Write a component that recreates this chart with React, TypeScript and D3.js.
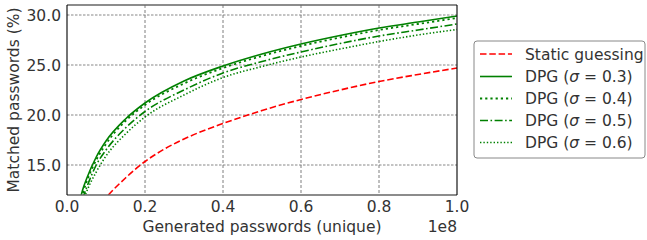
import React from "react";
import * as d3 from "d3";

const xs = [0.03, 0.04, 0.05, 0.075, 0.1, 0.15, 0.2, 0.3, 0.4, 0.5, 0.6, 0.7, 0.8, 0.9, 1.0];
const sigma03 = [10.9, 12.5, 13.6, 15.8, 17.4, 19.6, 21.2, 23.4, 24.9, 26.1, 27.1, 27.95, 28.7, 29.3, 29.9];
const sigma04 = [10.7, 12.1, 13.3, 15.5, 17.1, 19.4, 21.0, 23.15, 24.7, 25.9, 26.9, 27.75, 28.5, 29.1, 29.7];
const sigma05 = [10.2, 11.6, 12.7, 15.0, 16.5, 18.7, 20.35, 22.5, 24.2, 25.35, 26.3, 27.15, 27.9, 28.5, 29.1];
const sigma06 = [9.8, 11.2, 12.3, 14.3, 15.9, 18.1, 19.8, 22.0, 23.75, 24.85, 25.8, 26.6, 27.35, 28.0, 28.55];
const staticX = [0.09, 0.106, 0.15, 0.2, 0.25, 0.3, 0.4, 0.5, 0.6, 0.7, 0.8, 0.9, 1.0];
const staticY = [11.3, 12.0, 13.7, 15.35, 16.6, 17.6, 19.15, 20.45, 21.55, 22.5, 23.35, 24.05, 24.7];

const xTicks = [0, 0.2, 0.4, 0.6, 0.8, 1.0];
const yTicks = [15, 20, 25, 30];
const legendLabels = ["Static guessing", "DPG (σ = 0.3)", "DPG (σ = 0.4)", "DPG (σ = 0.5)", "DPG (σ = 0.6)"];

const FONT = "DejaVu Sans, sans-serif";
const FS = 15.5;

export default function App() {
  const W = 647, H = 240;
  const L = 67, R = 457, T = 5, B = 195;
  const x = d3.scaleLinear().domain([0, 1]).range([L, R]);
  const y = d3.scaleLinear().domain([12, 31]).range([B, T]);
  const line = d3.line<[number, number]>().x(d => x(d[0])).y(d => y(d[1])).curve(d3.curveMonotoneX);

  const series = [
    { pts: staticX.map((v, i) => [v, staticY[i]] as [number, number]), color: "#ff0000", dash: "6.5,2.8", w: 1.6 },
    { pts: xs.map((v, i) => [v, sigma03[i]] as [number, number]), color: "#008000", dash: "", w: 1.6 },
    { pts: xs.map((v, i) => [v, sigma04[i]] as [number, number]), color: "#008000", dash: "2.2,3", w: 1.8 },
    { pts: xs.map((v, i) => [v, sigma05[i]] as [number, number]), color: "#008000", dash: "8,2.5,1.6,2.5", w: 1.6 },
    { pts: xs.map((v, i) => [v, sigma06[i]] as [number, number]), color: "#008000", dash: "1.4,2", w: 1.6 },
  ];

  const legX = 474, legY = 41, legW = 171, legH = 117;
  const rowY = [54, 76.5, 98.5, 120.5, 142.5];

  return (
    <svg width={W} height={H} style={{ position: "absolute", left: 0, top: 0 }} fontFamily={FONT}>
      <defs>
        <clipPath id="plot">
          <rect x={L} y={T} width={R - L} height={B - T} />
        </clipPath>
      </defs>
      <rect x={0} y={0} width={W} height={H} fill="#fff" />
      {yTicks.map(t => (
        <line key={"gy" + t} x1={L} x2={R} y1={y(t)} y2={y(t)} stroke="#b0b0b0" strokeWidth={1.3} strokeDasharray="2.5,1.5" />
      ))}
      {xTicks.filter(t => t > 0 && t < 1).map(t => (
        <line key={"gx" + t} x1={x(t)} x2={x(t)} y1={T} y2={B} stroke="#707070" strokeWidth={0.9} strokeDasharray="3,2" />
      ))}
      <g clipPath="url(#plot)">
        {series.map((s, i) => (
          <path key={i} d={line(s.pts) || ""} fill="none" stroke={s.color} strokeWidth={s.w} strokeDasharray={s.dash || undefined} />
        ))}
      </g>
      <line x1={L} x2={R} y1={T} y2={T} stroke="#666" strokeWidth={1.6} />
      <line x1={L} x2={R} y1={B} y2={B} stroke="#666" strokeWidth={1.6} />
      <line x1={L} x2={L} y1={T} y2={B} stroke="#000" strokeWidth={1.1} />
      <line x1={R} x2={R} y1={T} y2={B} stroke="#000" strokeWidth={1.1} />
      {yTicks.map(t => (
        <text key={"ty" + t} x={61} y={y(t)} dy="0.36em" textAnchor="end" fontSize={FS} fill="#333">{t.toFixed(1)}</text>
      ))}
      {xTicks.map(t => (
        <text key={"tx" + t} x={x(t)} y={212} textAnchor="middle" fontSize={FS} fill="#333">{t.toFixed(1)}</text>
      ))}
      <text x={(L + R) / 2} y={232} textAnchor="middle" fontSize={FS} fill="#333">Generated passwords (unique)</text>
      <text x={R} y={232} textAnchor="end" fontSize={FS} fill="#333">1e8</text>
      <text transform={`translate(19,${(T + B) / 2}) rotate(-90)`} textAnchor="middle" fontSize={FS} fill="#333">Matched passwords (%)</text>
      <rect x={legX} y={legY} width={legW} height={legH} rx={3} fill="#fff" stroke="#888" strokeWidth={1} />
      {series.map((s, i) => (
        <g key={"lg" + i}>
          <line x1={480} x2={512} y1={rowY[i]} y2={rowY[i]} stroke={s.color} strokeWidth={s.w} strokeDasharray={s.dash || undefined} />
          <text x={525} y={rowY[i]} dy="0.36em" fontSize={FS} fill="#333">
            {i === 0 ? legendLabels[0] : (
              <>
                {"DPG ("}
                <tspan fontStyle="italic">σ</tspan>
                {" = " + legendLabels[i].split("= ")[1]}
              </>
            )}
          </text>
        </g>
      ))}
    </svg>
  );
}
